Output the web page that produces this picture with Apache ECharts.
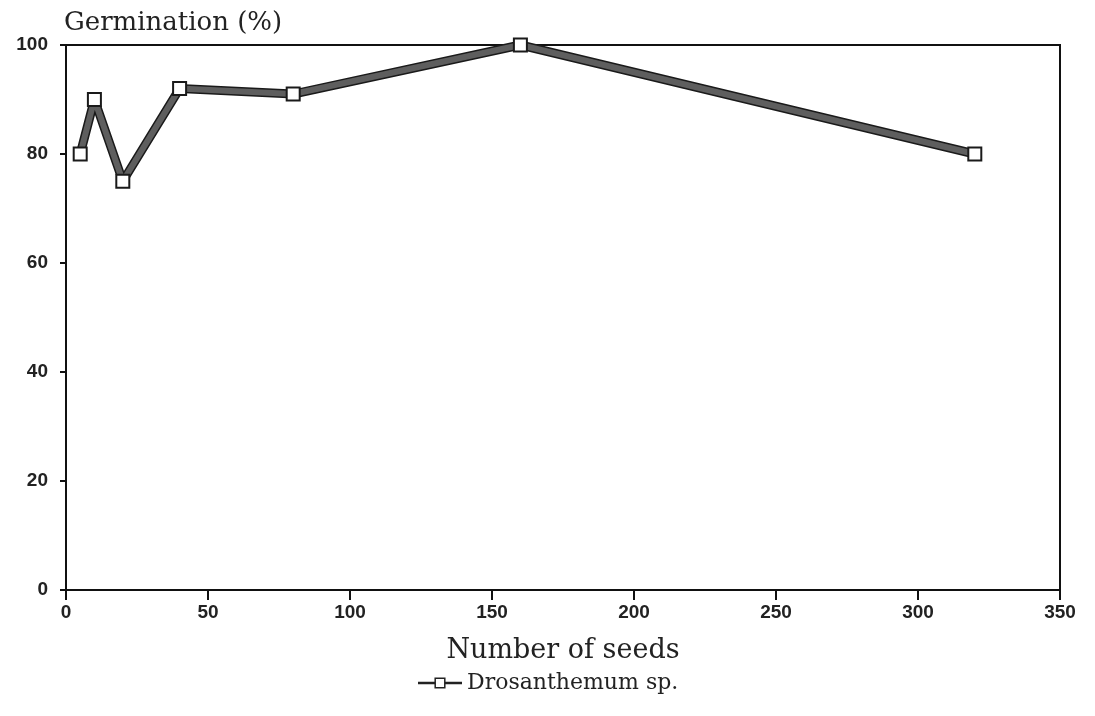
<!DOCTYPE html>
<html>
<head>
<meta charset="utf-8">
<script src="https://cdn.jsdelivr.net/npm/echarts@6/dist/echarts.min.js"></script>
<style>
  html, body { margin: 0; padding: 0; background: #fff; }
  #chart { width: 1095px; height: 716px; }
</style>
</head>
<body>
<div id="chart"></div>
<script>
// Seed number vs. germination percentage
const seedCounts = [5, 10, 20, 40, 80, 160, 320];
const germination = [80, 90, 75, 92, 91, 100, 80];
const xTicks = [0, 50, 100, 150, 200, 250, 300, 350];
const yTicks = [0, 20, 40, 60, 80, 100];
const seriesName = 'Drosanthemum sp.';

const points = seedCounts.map((s, i) => [s, germination[i]]);

const serifFont = '"DejaVu Serif", "Liberation Serif", serif';
const tickFont = '"Liberation Sans", Arial, sans-serif';

const chart = echarts.init(document.getElementById('chart'), null, { renderer: 'canvas' });

chart.setOption({
  backgroundColor: '#ffffff',
  animation: false,
  title: {
    text: 'Germination (%)',
    left: 59,
    top: 5,
    textStyle: { fontFamily: serifFont, fontSize: 26, fontWeight: 'normal', color: '#222' }
  },
  grid: {
    left: 66, right: 35, top: 45, bottom: 126,
    show: true, borderColor: '#111', borderWidth: 2, backgroundColor: 'transparent'
  },
  legend: {
    data: [seriesName],
    bottom: 17,
    left: 'center',
    itemWidth: 44,
    itemHeight: 12,
    itemGap: 8,
    lineStyle: { width: 2.5, color: '#222' },
    itemStyle: { color: '#fff', borderColor: '#222', borderWidth: 1.5 },
    textStyle: { fontFamily: serifFont, fontSize: 22, color: '#222' }
  },
  xAxis: {
    type: 'value',
    min: 0, max: 350, interval: 50,
    name: 'Number of seeds',
    nameLocation: 'middle',
    nameGap: 47,
    nameTextStyle: { fontFamily: serifFont, fontSize: 27, color: '#222' },
    axisLine: { show: true, lineStyle: { color: '#111', width: 2 } },
    axisTick: { show: true, inside: false, length: 10, lineStyle: { color: '#111', width: 2 } },
    axisLabel: {
      fontFamily: tickFont, fontSize: 19, fontWeight: 'bold', color: '#222', margin: 13,
      formatter: v => xTicks.includes(v) ? String(v) : ''
    },
    splitLine: { show: false }
  },
  yAxis: {
    type: 'value',
    min: 0, max: 100, interval: 20,
    axisLine: { show: true, lineStyle: { color: '#111', width: 2 } },
    axisTick: { show: true, inside: false, length: 6, lineStyle: { color: '#111', width: 2 } },
    axisLabel: {
      fontFamily: tickFont, fontSize: 19, fontWeight: 'bold', color: '#222', margin: 18,
      formatter: v => yTicks.includes(v) ? String(v) : ''
    },
    splitLine: { show: false }
  },
  series: [
    {
      // dark outline underneath the grey band
      name: 'outline',
      type: 'line',
      data: points,
      symbol: 'none',
      silent: true,
      lineStyle: { color: '#1a1a1a', width: 9, join: 'round' },
      z: 2
    },
    {
      name: seriesName,
      type: 'line',
      data: points,
      symbol: 'rect',
      symbolSize: 13,
      lineStyle: { color: '#5e5e5e', width: 6, join: 'round' },
      itemStyle: { color: '#ffffff', borderColor: '#1a1a1a', borderWidth: 2 },
      z: 3
    }
  ]
});
</script>
</body>
</html>
